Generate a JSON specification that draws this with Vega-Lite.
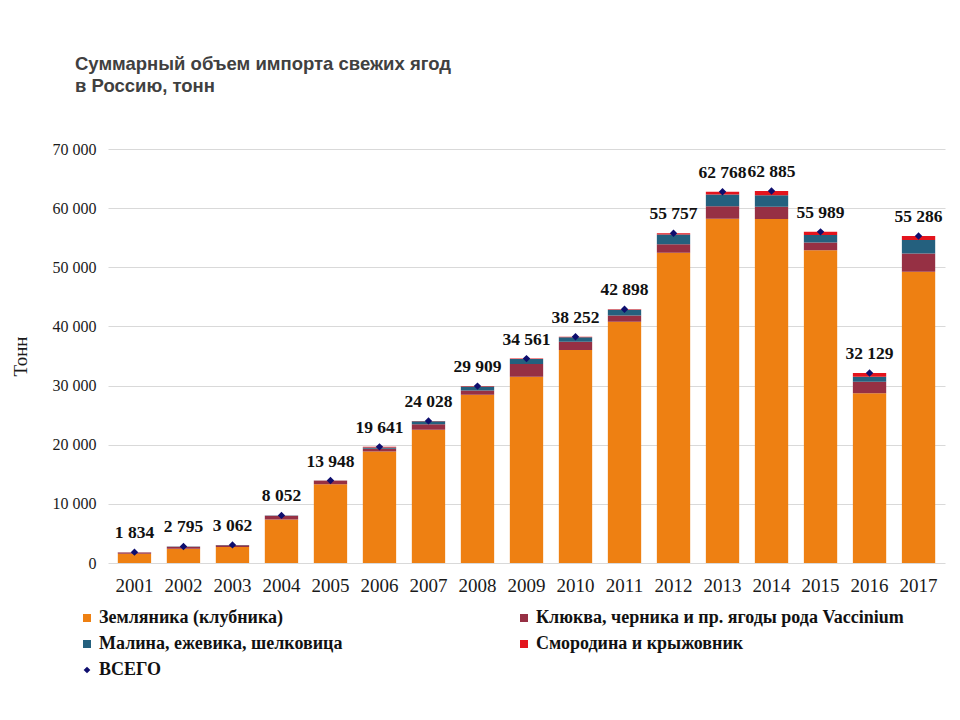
{
  "$schema": "https://vega.github.io/schema/vega-lite/v6.json",
  "width": 837,
  "height": 414,
  "autosize": {"type": "none"},
  "padding": {"left": 108, "top": 149, "right": 15, "bottom": 157},
  "background": "white",
  "config": {
    "locale": {"number": {"decimal": ",", "thousands": " ", "grouping": [3], "currency": ["", ""]}},
    "view": {"stroke": null},
    "font": "Liberation Serif"
  },
  "title": {
    "text": ["Суммарный объем импорта свежих ягод", "в Россию, тонн"],
    "anchor": "start",
    "frame": "group",
    "dx": -33,
    "offset": 46,
    "font": "Liberation Sans",
    "fontSize": 18.5,
    "fontWeight": "bold",
    "color": "#404040",
    "lineHeight": 22
  },
  "datasets": {
    "parts": [
      {"year": "2001", "s": "Земляника (клубника)", "v": 1550},
      {"year": "2001", "s": "Клюква, черника и пр. ягоды рода Vaccinium", "v": 200},
      {"year": "2001", "s": "Малина, ежевика, шелковица", "v": 20},
      {"year": "2001", "s": "Смородина и крыжовник", "v": 64},
      {"year": "2002", "s": "Земляника (клубника)", "v": 2400},
      {"year": "2002", "s": "Клюква, черника и пр. ягоды рода Vaccinium", "v": 350},
      {"year": "2002", "s": "Малина, ежевика, шелковица", "v": 20},
      {"year": "2002", "s": "Смородина и крыжовник", "v": 25},
      {"year": "2003", "s": "Земляника (клубника)", "v": 2700},
      {"year": "2003", "s": "Клюква, черника и пр. ягоды рода Vaccinium", "v": 320},
      {"year": "2003", "s": "Малина, ежевика, шелковица", "v": 20},
      {"year": "2003", "s": "Смородина и крыжовник", "v": 22},
      {"year": "2004", "s": "Земляника (клубника)", "v": 7350},
      {"year": "2004", "s": "Клюква, черника и пр. ягоды рода Vaccinium", "v": 650},
      {"year": "2004", "s": "Малина, ежевика, шелковица", "v": 30},
      {"year": "2004", "s": "Смородина и крыжовник", "v": 22},
      {"year": "2005", "s": "Земляника (клубника)", "v": 13300},
      {"year": "2005", "s": "Клюква, черника и пр. ягоды рода Vaccinium", "v": 550},
      {"year": "2005", "s": "Малина, ежевика, шелковица", "v": 60},
      {"year": "2005", "s": "Смородина и крыжовник", "v": 38},
      {"year": "2006", "s": "Земляника (клубника)", "v": 18850},
      {"year": "2006", "s": "Клюква, черника и пр. ягоды рода Vaccinium", "v": 450},
      {"year": "2006", "s": "Малина, ежевика, шелковица", "v": 250},
      {"year": "2006", "s": "Смородина и крыжовник", "v": 91},
      {"year": "2007", "s": "Земляника (клубника)", "v": 22550},
      {"year": "2007", "s": "Клюква, черника и пр. ягоды рода Vaccinium", "v": 900},
      {"year": "2007", "s": "Малина, ежевика, шелковица", "v": 500},
      {"year": "2007", "s": "Смородина и крыжовник", "v": 78},
      {"year": "2008", "s": "Земляника (клубника)", "v": 28450},
      {"year": "2008", "s": "Клюква, черника и пр. ягоды рода Vaccinium", "v": 700},
      {"year": "2008", "s": "Малина, ежевика, шелковица", "v": 680},
      {"year": "2008", "s": "Смородина и крыжовник", "v": 79},
      {"year": "2009", "s": "Земляника (клубника)", "v": 31500},
      {"year": "2009", "s": "Клюква, черника и пр. ягоды рода Vaccinium", "v": 2150},
      {"year": "2009", "s": "Малина, ежевика, шелковица", "v": 850},
      {"year": "2009", "s": "Смородина и крыжовник", "v": 61},
      {"year": "2010", "s": "Земляника (клубника)", "v": 36000},
      {"year": "2010", "s": "Клюква, черника и пр. ягоды рода Vaccinium", "v": 1400},
      {"year": "2010", "s": "Малина, ежевика, шелковица", "v": 780},
      {"year": "2010", "s": "Смородина и крыжовник", "v": 72},
      {"year": "2011", "s": "Земляника (клубника)", "v": 40800},
      {"year": "2011", "s": "Клюква, черника и пр. ягоды рода Vaccinium", "v": 1050},
      {"year": "2011", "s": "Малина, ежевика, шелковица", "v": 950},
      {"year": "2011", "s": "Смородина и крыжовник", "v": 98},
      {"year": "2012", "s": "Земляника (клубника)", "v": 52450},
      {"year": "2012", "s": "Клюква, черника и пр. ягоды рода Vaccinium", "v": 1450},
      {"year": "2012", "s": "Малина, ежевика, шелковица", "v": 1650},
      {"year": "2012", "s": "Смородина и крыжовник", "v": 207},
      {"year": "2013", "s": "Земляника (клубника)", "v": 58200},
      {"year": "2013", "s": "Клюква, черника и пр. ягоды рода Vaccinium", "v": 2100},
      {"year": "2013", "s": "Малина, ежевика, шелковица", "v": 2000},
      {"year": "2013", "s": "Смородина и крыжовник", "v": 468},
      {"year": "2014", "s": "Земляника (клубника)", "v": 58150},
      {"year": "2014", "s": "Клюква, черника и пр. ягоды рода Vaccinium", "v": 2100},
      {"year": "2014", "s": "Малина, ежевика, шелковица", "v": 1950},
      {"year": "2014", "s": "Смородина и крыжовник", "v": 685},
      {"year": "2015", "s": "Земляника (клубника)", "v": 52900},
      {"year": "2015", "s": "Клюква, черника и пр. ягоды рода Vaccinium", "v": 1300},
      {"year": "2015", "s": "Малина, ежевика, шелковица", "v": 1250},
      {"year": "2015", "s": "Смородина и крыжовник", "v": 539},
      {"year": "2016", "s": "Земляника (клубника)", "v": 28700},
      {"year": "2016", "s": "Клюква, черника и пр. ягоды рода Vaccinium", "v": 1950},
      {"year": "2016", "s": "Малина, ежевика, шелковица", "v": 850},
      {"year": "2016", "s": "Смородина и крыжовник", "v": 629},
      {"year": "2017", "s": "Земляника (клубника)", "v": 49250},
      {"year": "2017", "s": "Клюква, черника и пр. ягоды рода Vaccinium", "v": 3100},
      {"year": "2017", "s": "Малина, ежевика, шелковица", "v": 2250},
      {"year": "2017", "s": "Смородина и крыжовник", "v": 686}
    ],
    "totals": [
      {"year": "2001", "total": 1834},
      {"year": "2002", "total": 2795},
      {"year": "2003", "total": 3062},
      {"year": "2004", "total": 8052},
      {"year": "2005", "total": 13948},
      {"year": "2006", "total": 19641},
      {"year": "2007", "total": 24028},
      {"year": "2008", "total": 29909},
      {"year": "2009", "total": 34561},
      {"year": "2010", "total": 38252},
      {"year": "2011", "total": 42898},
      {"year": "2012", "total": 55757},
      {"year": "2013", "total": 62768},
      {"year": "2014", "total": 62885},
      {"year": "2015", "total": 55989},
      {"year": "2016", "total": 32129},
      {"year": "2017", "total": 55286}
    ]
  },
  "layer": [
    {
      "data": {"name": "parts"},
      "mark": {"type": "bar"},
      "encoding": {
        "x": {
          "field": "year", "type": "ordinal",
          "scale": {"paddingInner": 0.32, "paddingOuter": 0.2},
          "axis": {"title": null, "labelAngle": 0, "labelFontSize": 19, "labelColor": "#1a1a1a", "labelPadding": 13, "domain": false, "ticks": false}
        },
        "y": {
          "field": "v", "type": "quantitative", "stack": "zero",
          "scale": {"domain": [0, 70000], "nice": false},
          "axis": {
            "title": "Тонн", "titleFontSize": 19, "titleFontWeight": "normal", "titleColor": "#1a1a1a", "titlePadding": 22,
            "values": [0, 10000, 20000, 30000, 40000, 50000, 60000, 70000],
            "format": ",d", "labelFontSize": 16, "labelColor": "#1a1a1a", "labelPadding": 12,
            "domain": false, "ticks": false, "gridColor": "#d9d9d9"
          }
        },
        "order": {"field": "s", "type": "nominal", "sort": "ascending"},
        "color": {
          "field": "s", "type": "nominal",
          "scale": {
            "domain": ["Земляника (клубника)", "Малина, ежевика, шелковица", "Клюква, черника и пр. ягоды рода Vaccinium", "Смородина и крыжовник"],
            "range": ["#EE8012", "#24607E", "#963044", "#E3141D"]
          },
          "legend": {
            "title": null, "orient": "none", "legendX": -30, "legendY": 460, "columns": 2, "columnPadding": 172,
            "rowPadding": 8, "symbolType": "square", "symbolSize": 64, "symbolStrokeWidth": 0,
            "labelFontSize": 18, "labelFontWeight": "bold", "labelColor": "#111111", "labelLimit": 600, "labelOffset": 3
          }
        }
      }
    },
    {
      "data": {"name": "totals"},
      "mark": {"type": "point", "filled": true, "size": 55, "color": "#0E0E6E", "opacity": 1},
      "encoding": {
        "x": {"field": "year", "type": "ordinal"},
        "y": {"field": "total", "type": "quantitative"},
        "shape": {
          "datum": "ВСЕГО",
          "scale": {"range": ["diamond"]},
          "legend": {
            "title": null, "orient": "none", "legendX": -30, "legendY": 512,
            "symbolFillColor": "#0E0E6E", "symbolStrokeWidth": 0, "symbolSize": 45,
            "labelFontSize": 18, "labelFontWeight": "bold", "labelColor": "#111111", "labelOffset": 3
          }
        }
      }
    },
    {
      "data": {"name": "totals"},
      "mark": {"type": "text", "baseline": "bottom", "dy": -10, "fontWeight": "bold", "fontSize": 17.5, "color": "#111111"},
      "encoding": {
        "x": {"field": "year", "type": "ordinal"},
        "y": {"field": "total", "type": "quantitative"},
        "text": {"field": "total", "type": "quantitative", "format": ",d"}
      }
    }
  ]
}
